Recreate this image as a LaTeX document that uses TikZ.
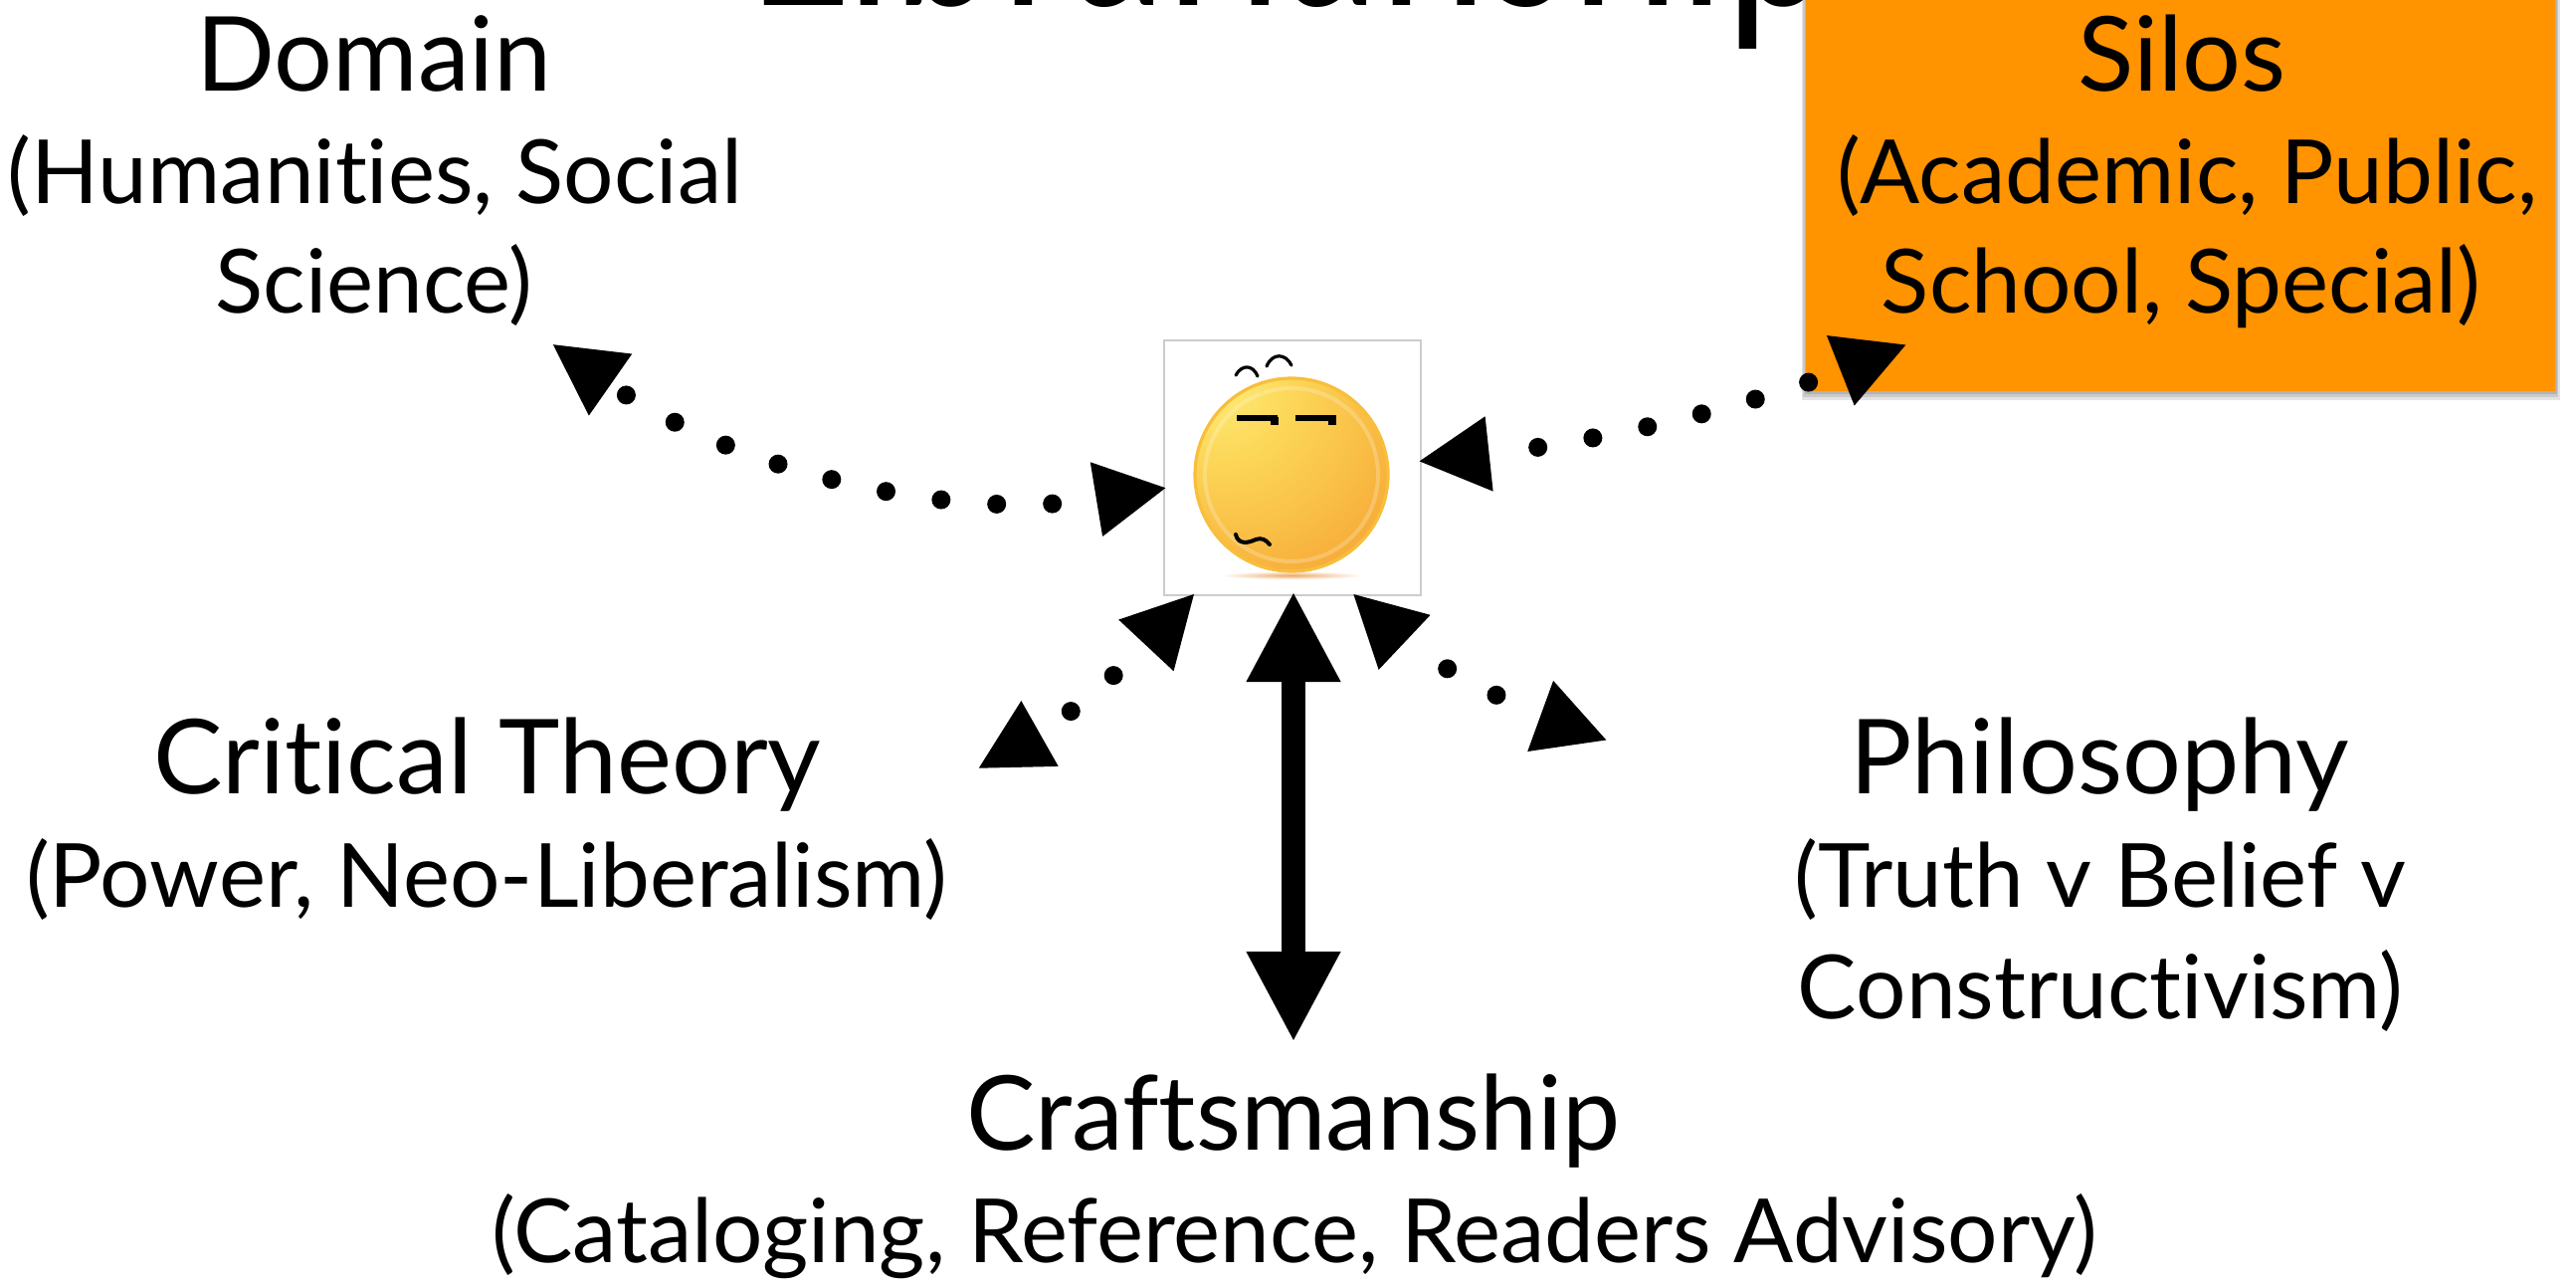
\documentclass[tikz,border=0pt]{standalone}
\usepackage{fontspec}
\usetikzlibrary{arrows.meta}
\setmainfont[Ligatures=NoCommon]{Lato}
\newfontfamily\titlefam[Ligatures=NoCommon,FakeStretch=0.76]{Lato}
\definecolor{siloorange}{HTML}{FF9300}
\definecolor{faceborder}{HTML}{CCCCCC}
\definecolor{facerim}{HTML}{F8BE3C}
\definecolor{faceA}{HTML}{FFF07E}
\definecolor{faceB}{HTML}{FCD758}
\definecolor{faceC}{HTML}{F9BE45}
\definecolor{faceD}{HTML}{F4952A}
\definecolor{faceE}{HTML}{F7AC34}
\definecolor{faceF}{HTML}{F9C13C}
\definecolor{faceshadow}{HTML}{EFA868}
\pgfdeclareradialshading{faceshade}{\pgfpoint{-22bp}{27bp}}{
  color(0bp)=(faceA);
  color(18bp)=(faceB);
  color(34bp)=(faceC);
  color(58bp)=(faceD);
  color(76bp)=(faceE);
  color(100bp)=(faceF)}
\newcommand{\lblfont}{\fontsize{44.5}{50}\selectfont}
\newcommand{\headfont}{\fontsize{52}{58}\selectfont}
\tikzset{
  lbl/.style={font=\lblfont,align=center,anchor=base,inner sep=0pt,outer sep=0pt,text=black},
  head/.style={lbl,font=\headfont},
  dotconn/.style={line width=9.5pt,line cap=round,dash pattern=on 0pt off 28pt,dash phase=3.5pt,
    shorten <=-1.5pt,shorten >=-1.5pt,
    {Triangle[length=36pt,width=35pt]}-{Triangle[length=36pt,width=35pt]}},
  thickconn/.style={line width=11.75pt,shorten <=-2pt,shorten >=-2pt,
    {Triangle[length=45.5pt,width=44pt]}-{Triangle[length=45.5pt,width=44pt]}},
  facepart/.style={line width=3pt,line cap=butt,black}
}
\begin{document}
\begin{tikzpicture}[x=0.5pt,y=-0.5pt]
\useasboundingbox (0,0) rectangle (2589,1294);
\fill[white] (0,0) rectangle (2589,1294);
\begin{scope}
\clip (0,0) rectangle (2589,1294);
% title, cut by the top edge
\node[anchor=base west,inner sep=0pt,font=\titlefam\fontsize{128}{138}\selectfont] (title) at (750,6) {Librarianship};
% shadow of the box
\foreach \g in {9,6,3}
  \fill[black,opacity=0.11] (1815-\g*0.5,-10) rectangle (2568+\g*0.5,393+\g);
\node[fill=siloorange,inner sep=0pt,outer sep=0pt,minimum width=376.5pt,minimum height=201.5pt,anchor=south west] (silobox) at (1815,393) {};
\end{scope}
% labels
\node[head] (domain1) at (376,92) {Domain};
\node[lbl] (domain2) at (377,205) {(Humanities, Social};
\node[lbl] (domain3) at (376,315) {Science)};
\node[head] (silos1) at (2193,92) {Silos};
\node[lbl] (silos2) at (2198,205) {(Academic, Public,};
\node[lbl] (silos3) at (2192,315) {School, Special)};
\node[head] (crit1) at (490,797) {Critical Theory};
\node[lbl] (crit2) at (489,911) {(Power, Neo-Liberalism)};
\node[head] (phil1) at (2110,797) {Philosophy};
\node[lbl] (phil2) at (2111,911) {(Truth v Belief v};
\node[lbl] (phil3) at (2111,1023) {Constructivism)};
\node[head] (craft1) at (1300,1155) {Craftsmanship};
\node[lbl] (craft2) at (1301,1268) {(Cataloging, Reference, Readers Advisory)};
% central face
\node[draw=faceborder,line width=1.1pt,fill=white,inner sep=0pt,outer sep=0pt,minimum width=129pt,minimum height=128pt] (face) at (1299,470) {};
\shade[inner color=faceshadow,outer color=white] (1298,578) ellipse [x radius=72,y radius=4];
\shade[shading=faceshade] (1298,477) circle [radius=98];
\draw[facerim,line width=1.6pt] (1298,477) circle [radius=97];
\draw[white,opacity=0.22,line width=2pt] (1298,477) circle [radius=87];
\draw[facepart] (1243,420) -- (1284,420);
\draw[facepart,line width=4pt] (1281,418.5) -- (1281,427);
\draw[facepart] (1302,420) -- (1343,420);
\draw[facepart,line width=4pt] (1339,418.5) -- (1339,427);
\draw[facepart,line width=1.6pt,line cap=round] (1242,377) .. controls (1248,366) and (1259,366) .. (1264,378);
\draw[facepart,line width=1.6pt,line cap=round] (1273,368) .. controls (1279,354) and (1292,355) .. (1298,367);
\draw[facepart,line width=2pt,line cap=round] (1242,537) .. controls (1244,547) and (1254,546) .. (1262,542) .. controls (1268,540) and (1272,542) .. (1276,547);
% free ends
\coordinate (domainend) at (557,347);
\coordinate (siloend) at (1914,347);
\coordinate (critend) at (985,771);
\coordinate (philend) at (1613,743);
\coordinate (craftend) at (1300,1043);
% connectors
\draw[dotconn] (face.189.75) .. controls (960,525) and (740,475) .. (domainend);
\draw[dotconn,dash phase=1pt] (face.3.55) .. controls (1590,446) and (1744,414) .. (siloend);
\draw[dotconn] (face.232.85) .. controls (1142,659) and (1075,720) .. (critend);
\draw[dotconn,dash pattern=on 0pt off 28pt on 0pt off 400pt,dash phase=400.5pt] (face.296.57) .. controls (1425,658) and (1525,711) .. (philend);
\draw[thickconn] (face.south) ++(1,0) -- (craftend);
\end{tikzpicture}
\end{document}
